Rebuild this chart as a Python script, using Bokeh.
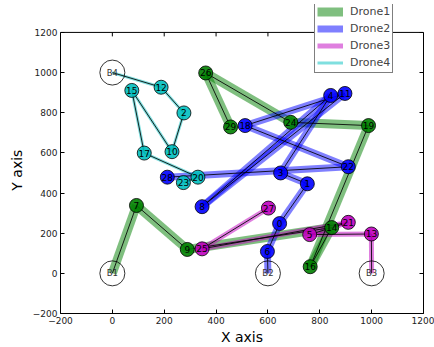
from bokeh.plotting import figure
from bokeh.models import Range1d, FixedTicker, LinearAxis, Legend, LegendItem, Span
from bokeh.core.properties import value
from bokeh.embed import file_html
from bokeh.resources import INLINE

# ---- data ----
node_ids = [str(i) for i in range(30)]
node_x = [645, 752, 276, 649, 842, 761, 598, 93, 346, 289,
          230, 897, 188, 999, 846, 75, 763, 123, 512, 988,
          330, 910, 910, 274, 688, 346, 360, 602, 212, 456]
node_y = [248, 446, 799, 500, 886, 193, 109, 338, 332, 119,
          606, 896, 927, 196, 228, 911, 33, 599, 736, 736,
          479, 254, 531, 452, 752, 122, 998, 325, 479, 729]
base_names = ["B1", "B2", "B3", "B4"]
base_x = [0, 600, 1000, 0]
base_y = [0, 0, 0, 1000]
drone_names = ["Drone1", "Drone2", "Drone3", "Drone4"]
route_drone1 = ["B1", "7", "9", "14", "16", "19", "24", "26", "29"]
route_drone2 = ["B2", "6", "0", "1", "3", "4", "8", "11", "18", "22", "28"]
route_drone3 = ["B3", "13", "5", "21", "25", "27"]
route_drone4 = ["B4", "12", "2", "10", "15", "17", "20", "23"]
drone_routes = [route_drone1, route_drone2, route_drone3, route_drone4]
drone_colors = ["#008000", "#0000ff", "#bf00bf", "#00bfbf"]
drone_widths = [9, 7, 5, 3]
tick_values = [-200, 0, 200, 400, 600, 800, 1000, 1200]
axis_min, axis_max = -200, 1200

FONT = "DejaVu Sans"

pos = {n: (x, y) for n, x, y in zip(node_ids, node_x, node_y)}
pos.update({n: (x, y) for n, x, y in zip(base_names, base_x, base_y)})

# frame extends above the axes box so the legend can overlap the top margin
W, H = 434, 347
ML, MR, MT, MB = 60, 11, 4, 33
box_top_px = 32
frame_h = H - MT - MB
y_top = axis_min + frame_h * (axis_max - axis_min) / (H - MB - box_top_px)
y_per_px = (axis_max - axis_min) / (H - MB - box_top_px)

p = figure(width=W, height=H, output_backend="svg", toolbar_location=None,
           x_range=Range1d(axis_min, axis_max), y_range=Range1d(axis_min, y_top),
           min_border_left=ML, min_border_right=MR, min_border_top=MT, min_border_bottom=MB)
p.background_fill_color = "white"
p.border_fill_color = "white"
p.outline_line_color = None
p.xgrid.visible = False
p.ygrid.visible = False

for ax in (p.xaxis[0], p.yaxis[0]):
    ax.ticker = FixedTicker(ticks=tick_values)
    ax.bounds = (axis_min, axis_max)
    ax.major_tick_in = 4
    ax.major_tick_out = 0
    ax.minor_tick_line_color = None
    ax.axis_line_color = "black"
    ax.major_tick_line_color = "black"
    ax.major_label_text_font = FONT
    ax.major_label_text_font_size = "9px"
    ax.major_label_text_color = "#222222"
    ax.major_label_standoff = 3
    ax.axis_label_text_font = FONT
    ax.axis_label_text_font_size = "14px"
    ax.axis_label_text_font_style = "normal"
    ax.axis_label_text_color = "black"
    ax.major_label_overrides = {-200: "\u2212200"}
p.xaxis.axis_label = "X axis"
p.yaxis.axis_label = "Y axis" + "\u00a0" * 5
p.xaxis.axis_label_standoff = 2
p.yaxis.axis_label_standoff = 5

right_ax = LinearAxis(ticker=FixedTicker(ticks=tick_values), bounds=(axis_min, axis_max),
                      major_tick_in=4, major_tick_out=0, minor_tick_line_color=None,
                      major_label_overrides={t: "" for t in tick_values},
                      axis_line_color="black", major_tick_line_color="black")
p.add_layout(right_ax, "right")

# top edge of the axes box with inward ticks
p.add_layout(Span(location=axis_max, dimension="width", line_color="black", line_width=1))
p.segment(x0=tick_values, y0=[axis_max] * len(tick_values),
          x1=tick_values, y1=[axis_max - 4 * y_per_px] * len(tick_values),
          line_color="black", line_width=1)

band_renderers = []
for route, col, w in zip(drone_routes, drone_colors, drone_widths):
    xs = [[pos[a][0], pos[b][0]] for a, b in zip(route[:-1], route[1:])]
    ys = [[pos[a][1], pos[b][1]] for a, b in zip(route[:-1], route[1:])]
    r = p.multi_line(xs=xs, ys=ys, line_color=col, line_width=w, line_alpha=0.5)
    band_renderers.append(r)
for route in drone_routes:
    p.line([pos[n][0] for n in route], [pos[n][1] for n in route],
           line_color="black", line_width=1, line_alpha=0.85)

# base circles
p.scatter(base_x, base_y, size=25, fill_color=None, line_color="black", line_width=0.8)
p.text(base_x, base_y, text=base_names, text_align="center", text_baseline="middle",
       text_font=value(FONT), text_font_size="8.5px", text_color="#333333")

# nodes
node_color = {}
for route, col in zip(drone_routes, drone_colors):
    for n in route:
        if n in node_ids:
            node_color[n] = col
colors = [node_color.get(n, "gray") for n in node_ids]
p.scatter(node_x, node_y, size=14, fill_color=colors, fill_alpha=0.9,
          line_color="black", line_width=0.8)
p.text(node_x, node_y, text=node_ids, text_align="center", text_baseline="middle",
       text_font=value(FONT), text_font_size="9px", text_color="black")

legend = Legend(items=[LegendItem(label=nm, renderers=[r]) for nm, r in zip(drone_names, band_renderers)],
                location=(254, 240), margin=0, padding=2, spacing=2,
                glyph_width=26, glyph_height=15, label_height=15, label_standoff=7,
                label_text_font=FONT, label_text_font_size="11px",
                border_line_color="black", border_line_width=1,
                background_fill_color="white", background_fill_alpha=1)
p.add_layout(legend)

open("out.html", "w").write(file_html(p, INLINE))
